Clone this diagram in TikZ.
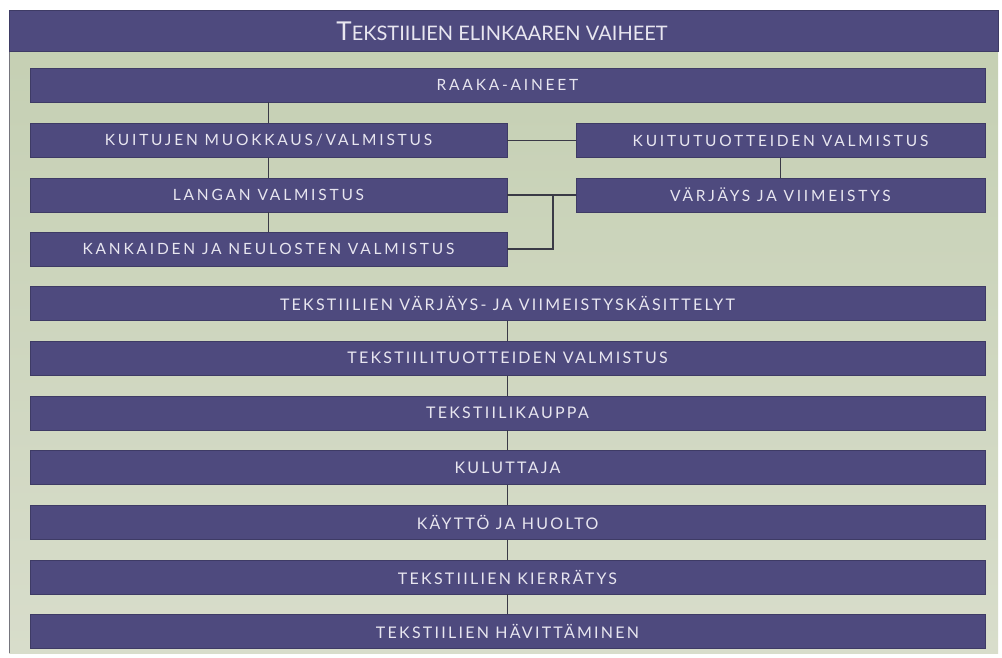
\documentclass[tikz,border=0pt]{standalone}
\usepackage{fontspec}
\setmainfont{Lato}
\newfontfamily\widecaps[LetterSpace=18]{Lato}
\newfontfamily\tightcaps[LetterSpace=14]{Lato}
\definecolor{vaihe}{RGB}{78,74,126}
\definecolor{pohja}{RGB}{196,207,178}
\definecolor{pohjaala}{RGB}{216,221,203}
\definecolor{teksti}{RGB}{232,230,240}
\definecolor{viiva}{RGB}{58,58,70}

\begin{document}
\begin{tikzpicture}[x=1pt,y=-1pt,
    vaihe/.style={fill=vaihe,draw=vaihe!80!black,line width=0.6pt,minimum height=34pt,inner sep=0pt,text=teksti},
    levea/.style={vaihe,minimum width=955pt,font=\tightcaps\fontsize{16}{16}\selectfont},
    vasen/.style={vaihe,minimum width=477pt,font=\widecaps\fontsize{15.5}{16}\selectfont},
    oikea/.style={vaihe,minimum width=409pt,font=\widecaps\fontsize{15.5}{16}\selectfont},
    yhdys/.style={draw=viiva,line width=1.6pt}]
  \useasboundingbox (0,0) rectangle (1002,657);
  \fill[white] (0,0) rectangle (1002,657);
  \shade[top color=pohja,bottom color=pohjaala] (9,10) rectangle (998,653);
  \draw[viiva!70,line width=1pt] (9,10) -- (9,653);
  \fill[vaihe] (9,10) rectangle (998,51);
  \node[text=teksti] (otsikko) at (502,31)
    {\fontsize{26}{28}\selectfont T\fontsize{20}{28}\selectfont EKSTIILIEN ELINKAAREN VAIHEET};

  \node[levea,font=\widecaps\fontsize{15.5}{16}\selectfont] (raaka) at (507.5,85) {RAAKA-AINEET};
  \node[vasen] (kuit) at (268.5,140.5) {KUITUJEN MUOKKAUS/VALMISTUS};
  \node[vasen] (lanka) at (268.5,195) {LANGAN VALMISTUS};
  \node[vasen] (kangas) at (268.5,249) {KANKAIDEN JA NEULOSTEN VALMISTUS};
  \node[oikea] (kuitutuote) at (780.5,140.5) {KUITUTUOTTEIDEN VALMISTUS};
  \node[oikea] (varjays) at (780.5,195) {VÄRJÄYS JA VIIMEISTYS};
  \coordinate (haara) at (553,195);

  \node[levea] (kasittely) at (507.5,303.5) {TEKSTIILIEN VÄRJÄYS- JA VIIMEISTYSKÄSITTELYT};
  \node[levea] (tuote) at (507.5,358.2) {TEKSTIILITUOTTEIDEN VALMISTUS};
  \node[levea] (kauppa) at (507.5,412.9) {TEKSTIILIKAUPPA};
  \node[levea] (kuluttaja) at (507.5,467.6) {KULUTTAJA};
  \node[levea] (kaytto) at (507.5,522.3) {KÄYTTÖ JA HUOLTO};
  \node[levea] (kierratys) at (507.5,577) {TEKSTIILIEN KIERRÄTYS};
  \node[levea] (havitys) at (507.5,631.7) {TEKSTIILIEN HÄVITTÄMINEN};

  \draw[yhdys] (kuit.north) -- (kuit.north |- raaka.south);
  \draw[yhdys] (kuit) -- (lanka) -- (kangas);
  \draw[yhdys] (kuit.east) -- (kuitutuote.west);
  \draw[yhdys] (kuitutuote) -- (varjays);
  \draw[yhdys] (lanka.east) -- (varjays.west);
  \draw[yhdys] (kangas.east) -| (haara);
  \foreach \a/\b in {kasittely/tuote,tuote/kauppa,kauppa/kuluttaja,kuluttaja/kaytto,kaytto/kierratys,kierratys/havitys}
    \draw[yhdys] (\a.south) -- (\b.north);
\end{tikzpicture}
\end{document}
